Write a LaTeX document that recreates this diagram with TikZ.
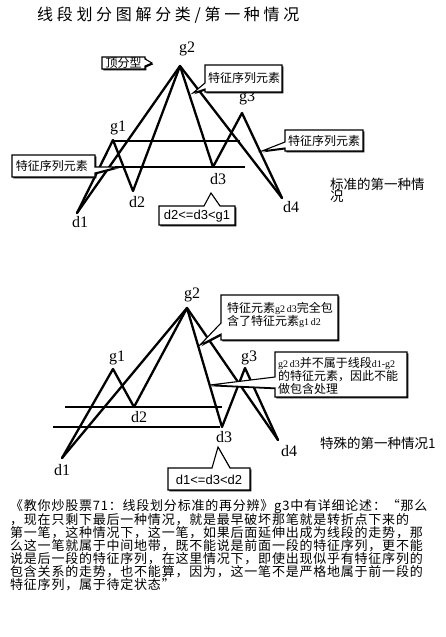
\documentclass[tikz,border=0pt]{standalone}
\usepackage{fontspec}
\setmainfont{Liberation Serif}
\newfontfamily\cjk{Noto Sans CJK SC}
\newfontfamily\cjkt[LetterSpace=23]{Noto Sans CJK SC}
\newfontfamily\cjkp[LetterSpace=6]{Noto Sans CJK SC}
\newfontfamily\lsans{Liberation Sans}
\usetikzlibrary{calc,shadows}
\begin{document}
\begin{tikzpicture}[x=1pt,y=-1pt,
  leg/.style={line width=2.3pt, line join=round, line cap=round},
  hline/.style={line width=1.5pt},
  callout/.style={draw, line width=1.1pt, fill=white, line join=miter,
    drop shadow={shadow xshift=1.3pt, shadow yshift=-1.3pt, opacity=1, fill=black}},
  lbl/.style={inner sep=0pt, font=\fontsize{16}{16}\selectfont},
  ctxt/.style={inner sep=0pt, font=\cjk\fontsize{12}{12}\selectfont},
  ltxt/.style={inner sep=0pt, anchor=west, font=\cjk\fontsize{12}{12}\selectfont},
  ctxtb/.style={inner sep=0pt, anchor=west, font=\cjk\fontsize{13.5}{13.5}\selectfont},
  para/.style={inner sep=0pt, anchor=west, font=\cjkp\fontsize{13}{13}\selectfont},
  cond/.style={inner sep=0pt, font=\lsans\fontsize{13}{13}\selectfont}
]
\useasboundingbox (0,0) rectangle (445,637);
\fill[white] (0,0) rectangle (445,637);

\newcommand\sm[1]{{\rmfamily\fontsize{10}{10}\selectfont #1}}

% title
\node[anchor=west, inner sep=0pt, font=\cjkt\fontsize{16}{16}\selectfont] (title) at (37,15) {线段划分图解分类/第一种情况};

% ---------------- diagram 1 ----------------
\coordinate (Ad1) at (77,213);
\coordinate (Ag1) at (113,140);
\coordinate (Ad2) at (133,191);
\coordinate (Ag2) at (180,66);
\coordinate (Ad3) at (213,167);
\coordinate (Ag3) at (242,113);
\coordinate (Ad4) at (282,198);
\coordinate (AhL1) at (113,141);
\coordinate (AhR1) at (240,141);
\coordinate (AhL2) at (115,167);
\coordinate (AhR2) at (245,167);

\draw[hline] (AhL1) -- (AhR1);
\draw[hline] (AhL2) -- (AhR2);
\draw[leg] (Ad1) -- (Ag1) -- (Ad2) -- (Ag2) -- (Ad3) -- (Ag3) -- (Ad4);
\draw[leg] (Ad1) -- (Ag2) -- (Ad4);

\node[lbl] (LAg2) at (187,49) {g2};
\node[lbl] (LAg1) at (118,128) {g1};
\node[lbl] (LAd2) at (137,202) {d2};
\node[lbl] (LAd1) at (80,222) {d1};
\node[lbl] (LAd3) at (218,179) {d3};
\node[lbl] (LAg3) at (247,98) {g3};
\node[lbl] (LAd4) at (291,207) {d4};

% callout: 顶分型
\coordinate (tipA) at (152,63);
\draw[callout] (102,57) -- (145,57) -- (145,59) -- (tipA) -- (145,66) -- (145,69) -- (102,69) -- cycle;
\node[ctxt] (cA) at (123.5,63) {顶分型};

% callout: top 特征序列元素
\coordinate (tipB) at (193,93);
\draw[callout] (205,65) -- (282,65) -- (282,92) -- (205,92) -- (205,89) -- (tipB) -- (205,83) -- cycle;
\node[ctxt] (cB) at (244,78) {特征序列元素};

% callout: right 特征序列元素
\coordinate (tipC) at (262,151);
\draw[callout] (285,130) -- (363,130) -- (363,151) -- (285,151) -- (285,148) -- (tipC) -- (285,142) -- cycle;
\node[ctxt] (cC) at (324,141) {特征序列元素};

% callout: left 特征序列元素
\coordinate (tipD) at (118,167);
\draw[callout] (12,155) -- (95,155) -- (95,167) -- (tipD) -- (95,173) -- (95,177) -- (12,177) -- cycle;
\node[ctxt] (cD) at (52,166) {特征序列元素};

% callout: d2<=d3<g1
\coordinate (tipE) at (211,193);
\draw[callout] (159,206) -- (204,206) -- (tipE) -- (220,206) -- (235,206) -- (235,225) -- (159,225) -- cycle;
\node[cond] (cE) at (197,216) {d2<=d3<g1};

\node[ctxtb] (capA1) at (330,184) {标准的第一种情};
\node[ctxtb] (capA2) at (330,197) {况};

% ---------------- diagram 2 ----------------
\coordinate (Bd1) at (62,458);
\coordinate (Bg1) at (113,369);
\coordinate (Bd2) at (134,407);
\coordinate (Bg2) at (187,308);
\coordinate (Bd3) at (222,427);
\coordinate (Bg3) at (245,368);
\coordinate (Bd4) at (278,440);
\coordinate (BhL1) at (65,407);
\coordinate (BhR1) at (222,407);
\coordinate (BhL2) at (53,427);
\coordinate (BhR2) at (220,427);

\draw[hline] (BhL1) -- (BhR1);
\draw[hline] (BhL2) -- (BhR2);
\draw[leg] (Bd1) -- (Bg1) -- (Bd2) -- (Bg2) -- (Bd3) -- (Bg3) -- (Bd4);
\draw[leg] (Bd1) -- (Bg2) -- (Bd4);

\node[lbl] (LBg2) at (192,295) {g2};
\node[lbl] (LBg1) at (117,358) {g1};
\node[lbl] (LBd2) at (139,417) {d2};
\node[lbl] (LBd1) at (62,470) {d1};
\node[lbl] (LBd3) at (224,437) {d3};
\node[lbl] (LBg3) at (249,358) {g3};
\node[lbl] (LBd4) at (289,451) {d4};

% callout: 特征元素g2d3完全包含了特征元素g1d2
\coordinate (tipF) at (200,345);
\draw[callout] (221,295) -- (338,295) -- (338,340) -- (221,340) -- (221,334) -- (tipF) -- (221,323) -- cycle;
\node[ltxt] (cF1) at (227,308) {特征元素\sm{g2\,d3}完全包};
\node[ltxt] (cF2) at (227,322) {含了特征元素\sm{g1\,d2}};

% callout: g2d3并不属于线段d1-g2 ...
\coordinate (tipG) at (210,385);
\draw[callout] (275,352) -- (407,352) -- (407,397) -- (275,397) -- (275,388) -- (tipG) -- (275,377) -- cycle;
\node[ltxt] (cG1) at (278,363) {\sm{g2\,d3}并不属于线段\sm{d1-g2}};
\node[ltxt] (cG2) at (278,376) {的特征元素，因此不能};
\node[ltxt] (cG3) at (278,389) {做包含处理};

% callout: d1<=d3<d2
\coordinate (tipH) at (218,447);
\draw[callout] (168,468) -- (212,468) -- (tipH) -- (230,468) -- (250,468) -- (250,490) -- (168,490) -- cycle;
\node[cond] (cH) at (209,479.5) {d1<=d3<d2};

\node[ctxtb] (capB) at (320,443) {特殊的第一种情况1};

% ---------------- paragraph ----------------
\node[para] (p1) at (10,507) {《教你炒股票71：线段划分标准的再分辨》g3中有详细论述：“那么};
\node[para] (p2) at (10,520) {，现在只剩下最后一种情况，就是最早破坏那笔就是转折点下来的};
\node[para] (p3) at (10,533) {第一笔，这种情况下，这一笔，如果后面延伸出成为线段的走势，那};
\node[para] (p4) at (10,546) {么这一笔就属于中间地带，既不能说是前面一段的特征序列，更不能};
\node[para] (p5) at (10,559) {说是后一段的特征序列，在这里情况下，即使出现似乎有特征序列的};
\node[para] (p6) at (10,572) {包含关系的走势，也不能算，因为，这一笔不是严格地属于前一段的};
\node[para] (p7) at (10,585) {特征序列，属于待定状态”};
\end{tikzpicture}
\end{document}
